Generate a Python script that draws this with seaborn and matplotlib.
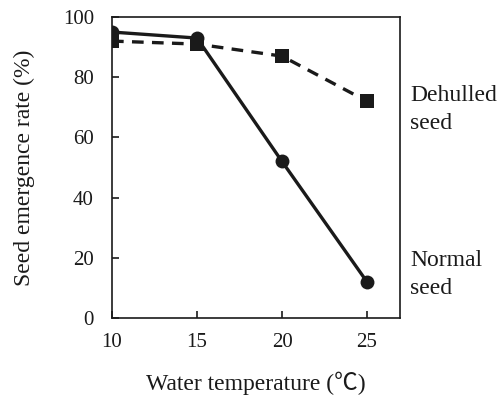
import matplotlib
matplotlib.use("Agg")
import matplotlib.pyplot as plt
import seaborn as sns
import pandas as pd

temps = [10, 15, 20, 25]
normal = [95, 93, 52, 12]
dehulled = [92, 91, 87, 72]

sns.set_theme(style="ticks")
plt.rcParams['font.family'] = 'Liberation Serif'

fig = plt.figure(figsize=(5, 4), dpi=100)
ax = fig.add_axes([112/500, 1-318/400, (400-112)/500, (318-17)/400])

df = pd.DataFrame({"t": temps * 2, "v": normal + dehulled,
                   "s": ["Normal"] * 4 + ["Dehulled"] * 4})
sns.lineplot(data=df[df.s == "Dehulled"], x="t", y="v", ax=ax, color="#1a1a1a",
             linestyle=(0, (3.5, 2.5)), linewidth=2.4, marker="s", markersize=9.5,
             markeredgewidth=0, legend=False)
sns.lineplot(data=df[df.s == "Normal"], x="t", y="v", ax=ax, color="#1a1a1a",
             linewidth=2.4, marker="o", markersize=10, markeredgewidth=0, legend=False)

ax.set_xlim(10, 26.94)
ax.set_ylim(0, 100)
ax.set_xticks(temps)
ax.set_yticks([0, 20, 40, 60, 80, 100])
ax.tick_params(direction="in", length=5, width=1.2, labelsize=15, colors="#1a1a1a")
ax.tick_params(axis="x", pad=11)
ax.tick_params(axis="y", pad=13)
for sp in ax.spines.values():
    sp.set_linewidth(1.2)
    sp.set_color("#1a1a1a")
ax.set_xlabel("Water temperature (℃)", fontsize=17, labelpad=14, color="#1a1a1a",
              family=['Liberation Serif', 'Noto Sans CJK JP'])
ax.set_ylabel("Seed emergence rate (%)", fontsize=17, labelpad=20, color="#1a1a1a")
ax.text(1.035, 0.693, "Dehulled\nseed", transform=ax.transAxes, fontsize=17,
        va="center", ha="left", linespacing=1.4, color="#1a1a1a")
ax.text(1.035, 0.145, "Normal\nseed", transform=ax.transAxes, fontsize=17,
        va="center", ha="left", linespacing=1.4, color="#1a1a1a")
for lab in ax.get_xticklabels() + ax.get_yticklabels():
    lab.set_color("#1a1a1a")

fig.savefig("out.png", dpi=100)
